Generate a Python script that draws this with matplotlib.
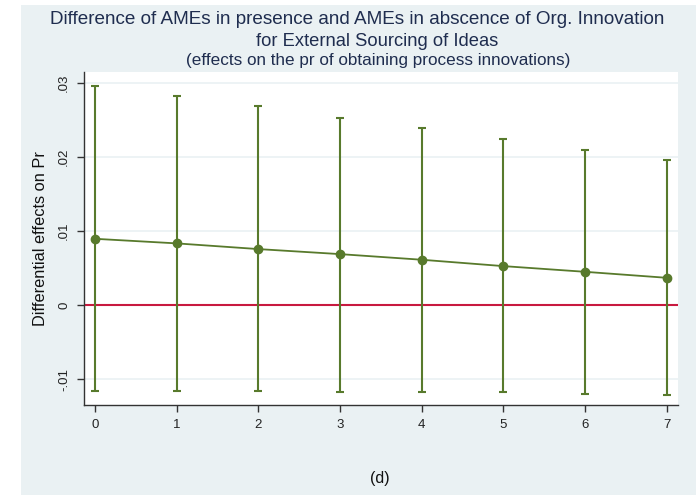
import numpy as np
import matplotlib
matplotlib.use('Agg')
from matplotlib import pyplot as plt
from matplotlib.patches import Rectangle

plt.rcParams['font.family'] = ['Liberation Sans', 'DejaVu Sans']

# average marginal effect differences with 95% CI
x = [0, 1, 2, 3, 4, 5, 6, 7]
ame = [0.00896, 0.00834, 0.00757, 0.00689, 0.00613, 0.00527, 0.00450, 0.00369]
ci_hi = [0.02955, 0.02829, 0.02690, 0.02530, 0.02396, 0.02243, 0.02099, 0.01955]
ci_lo = [-0.01162, -0.01162, -0.01165, -0.01170, -0.01176, -0.01180, -0.01198, -0.01212]
yticks = [-0.01, 0, 0.01, 0.02, 0.03]
ylabels = ['-.01', '0', '.01', '.02', '.03']

green = '#587a2c'
bg = '#eaf1f3'

W, H = 699, 495
fig = plt.figure(figsize=(W/100, H/100), dpi=100)
fig.patch.set_facecolor('white')
fig.patches.append(Rectangle((21/W, 0), (696-21)/W, 1 - 5/H, transform=fig.transFigure,
                             facecolor=bg, edgecolor='none', zorder=-10))

ax = fig.add_axes([84/W, 1 - 405/H, (678-84)/W, (405-72)/H])
ax.set_zorder(5)
ax.set_facecolor('white')
ax.set_xlim(-0.135, 7.14)
ax.set_ylim(-0.0135, 0.0315)

for t in yticks:
    ax.axhline(t, color=bg, lw=1.2, zorder=0)
ax.axhline(0, color='#c8193f', lw=1.5, zorder=1)

ax.errorbar(x, ame, yerr=[np.subtract(ame, ci_lo), np.subtract(ci_hi, ame)],
            fmt='none', ecolor=green, elinewidth=1.5, capsize=3, capthick=1.5, zorder=2)
ax.plot(x, ame, color=green, lw=1.3, marker='o', ms=6, zorder=3)

ax.set_xticks(x)
ax.set_xticklabels([str(v) for v in x], fontsize=9.5, color='#222222')
ax.set_yticks(yticks)
ax.set_yticklabels(ylabels, fontsize=9.5, color='#222222', rotation=90, va='center')
ax.tick_params(direction='out', length=5, width=1, color='#333333', pad=5)
for s in ['top', 'right']:
    ax.spines[s].set_visible(False)
for s in ['left', 'bottom']:
    ax.spines[s].set_color('#333333')
    ax.spines[s].set_linewidth(1)

ax.set_ylabel('Differential effects on Pr', fontsize=11.8, color='#111111', labelpad=7)

navy = '#1f2d4f'
fig.text(357/W, 1 - 20/H, 'Difference of AMEs in presence and AMEs in abscence of Org. Innovation',
         ha='center', va='center', fontsize=13.6, color=navy)
fig.text(377/W, 1 - 41/H, 'for External Sourcing of Ideas',
         ha='center', va='center', fontsize=13.2, color=navy)
fig.text(378/W, 1 - 60/H, '(effects on the pr of obtaining process innovations)',
         ha='center', va='center', fontsize=12.3, color=navy)
fig.text(380/W, 1 - 478/H, '(d)', ha='center', va='center', fontsize=11.5, color='#111111')

fig.savefig('out.png', dpi=100)
